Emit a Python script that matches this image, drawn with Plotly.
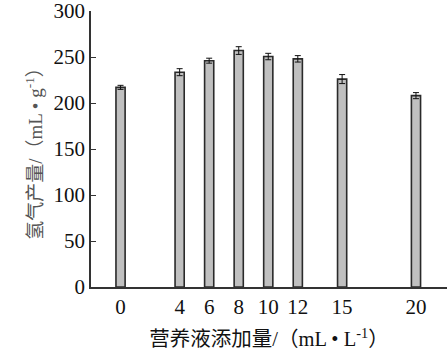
import plotly.graph_objects as go

doses = [0, 4, 6, 8, 10, 12, 15, 20]
h2_yield = [217, 233.5, 246, 257, 250.5, 248, 226, 208]
h2_err = [2.2, 3.8, 2.7, 4.2, 3.5, 3.5, 4.9, 3.3]
y_ticks = [0, 50, 100, 150, 200, 250, 300]

serif = "Liberation Serif, Times New Roman, Noto Sans CJK SC, serif"

fig = go.Figure()
fig.add_trace(go.Bar(
    x=doses, y=h2_yield, width=0.62,
    marker=dict(color="#c0c0c0", line=dict(color="#2a2a2a", width=1.6)),
    error_y=dict(type="data", array=h2_err, color="#111111", thickness=1, width=3),
))

fig.update_layout(
    width=447, height=353,
    margin=dict(l=91, r=0, t=11, b=66),
    paper_bgcolor="white", plot_bgcolor="white",
    showlegend=False,
    font=dict(family=serif, size=21, color="#111111"),
    xaxis=dict(
        range=[-2, 22.1], tickmode="array", tickvals=doses,
        ticktext=[str(d) for d in doses], ticks="", showgrid=False, zeroline=False,
        showline=True, linecolor="#333333", linewidth=1.5,
        tickfont=dict(family=serif, size=21),
        title=dict(text="营养液添加量/（mL • L<sup>-1</sup>）", font=dict(family=serif, size=20.5), standoff=14),
    ),
    yaxis=dict(
        range=[0, 300], tickmode="array", tickvals=y_ticks, ticks="inside", ticklen=5,
        tickcolor="#333333", showgrid=False, zeroline=False,
        showline=True, linecolor="#333333", linewidth=1.5,
        ticklabeloverflow="allow",
        tickfont=dict(family=serif, size=21),
        title=dict(text="氢气产量/（mL • g<sup>-1</sup>）", font=dict(family=serif, size=19, color="#555555"), standoff=6),
    ),
)

fig.write_html("out.html")
